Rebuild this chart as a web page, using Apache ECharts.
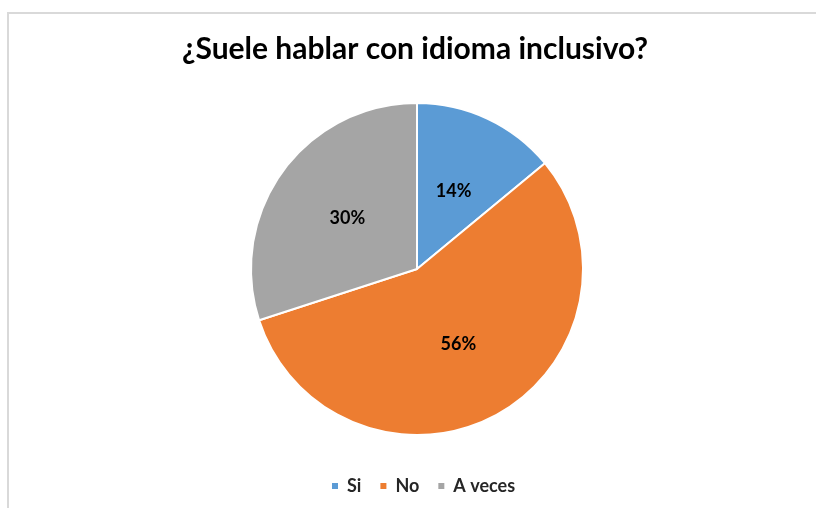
<!DOCTYPE html>
<html>
<head>
<meta charset="utf-8">
<script src="https://cdn.jsdelivr.net/npm/echarts@6/dist/echarts.min.js"></script>
<style>
html,body{margin:0;padding:0;background:#fff;}
#chart{width:816px;height:508px;}
</style>
</head>
<body>
<div id="chart"></div>
<script>
const titleText = '¿Suele hablar con idioma inclusivo?';
const categories = ['Si', 'No', 'A veces'];
const values = [14, 56, 30];
const colors = ['#5B9BD5', '#ED7D31', '#A5A5A5'];

const chart = echarts.init(document.getElementById('chart'), null, {renderer: 'canvas'});
chart.setOption({
  animation: false,
  backgroundColor: '#ffffff',
  graphic: [{
    type: 'rect',
    shape: {x: 8, y: 13, width: 900, height: 700},
    style: {fill: 'none', stroke: '#d9d9d9', lineWidth: 2},
    silent: true
  }],
  title: {
    text: titleText,
    left: 182,
    top: 34,
    padding: 0,
    textStyle: {fontFamily: 'Lato', fontWeight: 'bold', fontSize: 30, color: '#000000'}
  },
  legend: {
    data: categories,
    bottom: 13,
    left: 330,
    padding: 0,
    icon: 'rect',
    itemWidth: 8,
    itemHeight: 8,
    itemGap: 17,
    textStyle: {fontFamily: 'Lato', fontSize: 18, color: '#262626', fontWeight: 'bold', padding: [0, 0, 0, 3]}
  },
  series: [{
    type: 'pie',
    center: [417, 269],
    radius: 166,
    startAngle: 90,
    clockwise: true,
    data: categories.map((c, i) => ({name: c, value: values[i], itemStyle: {color: colors[i]}})),
    itemStyle: {borderColor: '#ffffff', borderWidth: 2},
    label: {
      show: true,
      position: 'inside',
      formatter: p => p.value + '%',
      fontFamily: 'Lato',
      fontWeight: 'bold',
      fontSize: 18,
      color: '#000000'
    },
    labelLine: {show: false},
    emphasis: {disabled: true}
  }]
});
</script>
</body>
</html>
